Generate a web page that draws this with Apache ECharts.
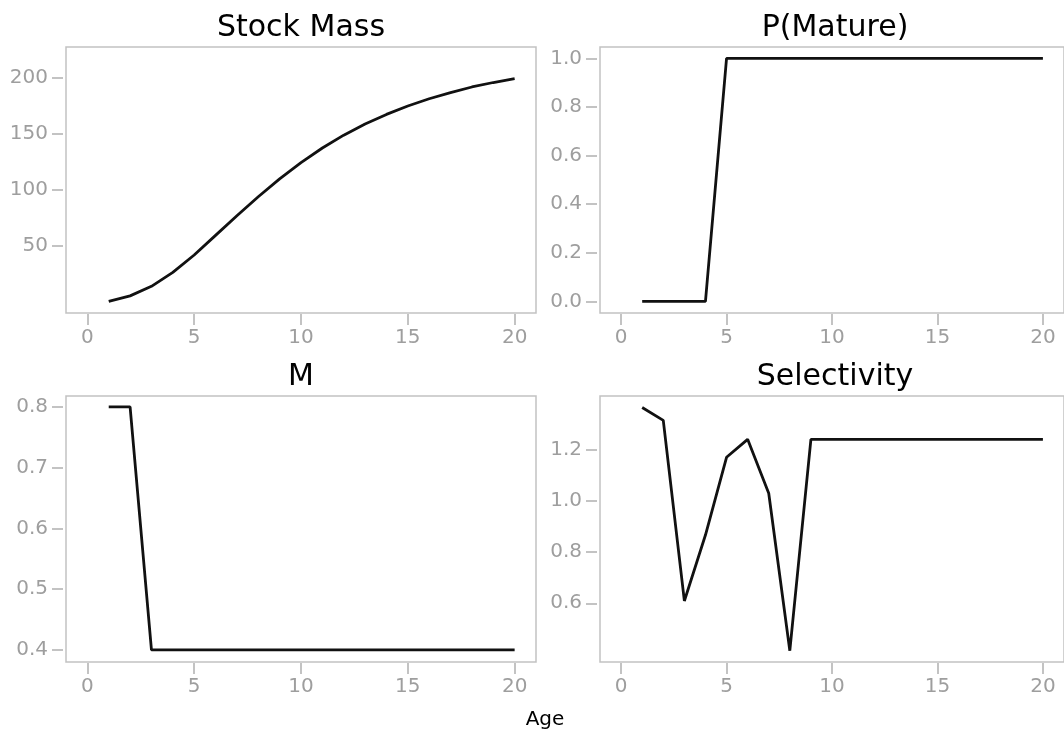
<!DOCTYPE html>
<html>
<head>
<meta charset="utf-8">
<script src="https://cdn.jsdelivr.net/npm/echarts@6/dist/echarts.min.js"></script>
<style>
  html, body { margin: 0; padding: 0; background: #fff; }
  #chart-container { width: 1064px; height: 735px; }
</style>
</head>
<body>
<div id="chart-container"></div>
<script>
const ages = [1, 2, 3, 4, 5, 6, 7, 8, 9, 10, 11, 12, 13, 14, 15, 16, 17, 18, 19, 20];
const stockMass = [0.6, 5.5, 14, 26.5, 42, 59.5, 77, 94, 110, 124.5, 137.5, 149, 159, 167.5, 175, 181.5, 187, 192, 196, 199.5];
const pMature = [0, 0, 0, 0, 1, 1, 1, 1, 1, 1, 1, 1, 1, 1, 1, 1, 1, 1, 1, 1];
const mortality = [0.8, 0.8, 0.4, 0.4, 0.4, 0.4, 0.4, 0.4, 0.4, 0.4, 0.4, 0.4, 0.4, 0.4, 0.4, 0.4, 0.4, 0.4, 0.4, 0.4];
const selectivity = [1.363, 1.313, 0.609, 0.866, 1.169, 1.239, 1.029, 0.415, 1.239, 1.239, 1.239, 1.239, 1.239, 1.239, 1.239, 1.239, 1.239, 1.239, 1.239, 1.239];

const xTicks = [0, 5, 10, 15, 20];
const stockTicks = [50, 100, 150, 200];
const matureTicks = [0, 0.2, 0.4, 0.6, 0.8, 1.0];
const mTicks = [0.4, 0.5, 0.6, 0.7, 0.8];
const selTicks = [0.6, 0.8, 1.0, 1.2];

const titles = ['Stock Mass', 'P(Mature)', 'M', 'Selectivity'];
const xLabel = 'Age';

const FONT = 'DejaVu Sans';
const GREY = '#9e9e9e';

// pair ages with values for a value x axis
function pairs(vals) {
  return ages.map((a, i) => [a, vals[i]]);
}

// onZero off, otherwise the ticks jump to the other axis's zero
function xAxis(idx) {
  return {
    type: 'value', gridIndex: idx, min: -1, max: 21, offset: 1,
    axisLine: { show: false, onZero: false },
    splitLine: { show: false },
    axisTick: { show: true, length: 11, customValues: xTicks, lineStyle: { color: '#b0b0b0', width: 1.5 } },
    axisLabel: { customValues: xTicks, margin: 14, color: GREY, fontSize: 20, fontFamily: FONT }
  };
}

function yAxis(idx, min, max, ticks, fmt) {
  return {
    type: 'value', gridIndex: idx, min: min, max: max, offset: 3,
    axisLine: { show: false, onZero: false },
    splitLine: { show: false },
    axisTick: { show: true, length: 11, customValues: ticks, lineStyle: { color: '#b0b0b0', width: 1.5 } },
    axisLabel: { customValues: ticks, margin: 15, color: GREY, fontSize: 20, fontFamily: FONT, formatter: fmt }
  };
}

const gridBox = (left, top) => ({
  left: left, top: top, width: 470, height: 266,
  show: true, borderColor: '#c2c2c2', borderWidth: 1.5, backgroundColor: 'transparent'
});

const line = (idx, vals) => ({
  type: 'line', xAxisIndex: idx, yAxisIndex: idx, data: pairs(vals),
  showSymbol: false, silent: true,
  lineStyle: { color: '#111', width: 2.8 }
});

const titleText = (text, x, y, size) => ({
  type: 'text', x: x, y: y,
  style: { text: text, fill: '#000', font: size + 'px "' + FONT + '"', align: 'center', verticalAlign: 'middle' }
});

const chart = echarts.init(document.getElementById('chart-container'));
chart.setOption({
  animation: false,
  grid: [gridBox(66, 47), gridBox(600, 47), gridBox(66, 396), gridBox(600, 396)],
  xAxis: [xAxis(0), xAxis(1), xAxis(2), xAxis(3)],
  yAxis: [
    yAxis(0, -9.8, 227.7, stockTicks, v => String(v)),
    yAxis(1, -0.048, 1.047, matureTicks, v => v.toFixed(1)),
    yAxis(2, 0.38, 0.818, mTicks, v => v.toFixed(1)),
    yAxis(3, 0.371, 1.408, selTicks, v => v.toFixed(1))
  ],
  series: [line(0, stockMass), line(1, pMature), line(2, mortality), line(3, selectivity)],
  graphic: [
    titleText(titles[0], 301, 28, 30),
    titleText(titles[1], 835, 28, 30),
    titleText(titles[2], 301, 377, 30),
    titleText(titles[3], 835, 377, 30),
    titleText(xLabel, 545, 720, 20)
  ]
});
</script>
</body>
</html>
